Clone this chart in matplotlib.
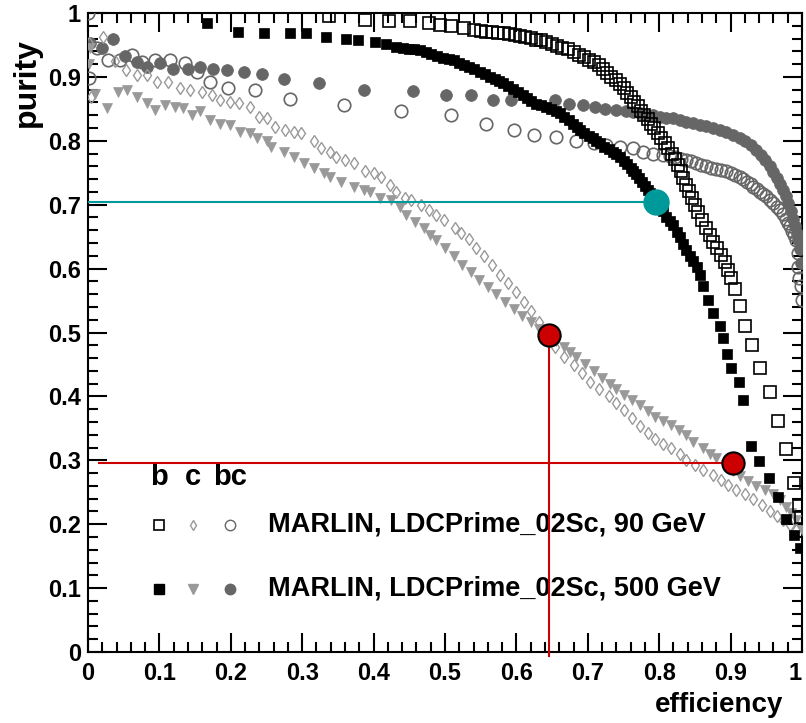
import matplotlib
matplotlib.use("Agg")
import matplotlib.pyplot as plt
from matplotlib.ticker import MultipleLocator

# ---------------- data ----------------
b90_x = [0.338,0.388,0.421,0.451,0.477,0.493,0.509,0.526,0.540,0.550,0.558,0.566,0.574,0.582,0.590,0.598,0.605,0.612,0.620,0.628,0.635,0.642,0.650,0.657,0.664,0.672,0.680,0.688,0.695,0.702,0.708,0.715,0.721,0.727,0.733,0.739,0.745,0.750,0.755,0.760,0.765,0.770,0.775,0.779,0.784,0.789,0.793,0.798,0.803,0.808,0.813,0.818,0.822,0.826,0.830,0.834,0.838,0.842,0.846,0.850,0.855,0.860,0.866,0.871,0.876,0.881,0.886,0.892,0.897,0.901,0.906,0.913,0.920,0.930,0.941,0.955,0.966,0.978,0.989,0.996,0.998]
b90_y = [0.995,0.989,0.987,0.987,0.984,0.981,0.979,0.976,0.973,0.972,0.971,0.970,0.969,0.968,0.967,0.965,0.964,0.963,0.961,0.958,0.957,0.955,0.952,0.949,0.946,0.943,0.939,0.935,0.931,0.927,0.923,0.918,0.912,0.906,0.900,0.895,0.889,0.882,0.875,0.868,0.861,0.854,0.847,0.841,0.834,0.827,0.820,0.812,0.805,0.797,0.789,0.780,0.771,0.762,0.752,0.742,0.731,0.721,0.711,0.700,0.688,0.676,0.663,0.652,0.642,0.632,0.622,0.611,0.598,0.585,0.568,0.541,0.510,0.480,0.444,0.407,0.362,0.317,0.265,0.228,0.212]

b500_x = [0.166,0.210,0.246,0.283,0.305,0.334,0.362,0.378,0.402,0.418,0.432,0.441,0.449,0.457,0.465,0.473,0.481,0.489,0.497,0.505,0.512,0.519,0.526,0.533,0.541,0.549,0.556,0.563,0.570,0.576,0.581,0.588,0.595,0.602,0.609,0.615,0.621,0.628,0.635,0.642,0.649,0.655,0.661,0.667,0.673,0.679,0.685,0.689,0.695,0.701,0.707,0.712,0.717,0.723,0.729,0.735,0.740,0.745,0.750,0.755,0.760,0.764,0.768,0.772,0.776,0.780,0.784,0.787,0.791,0.796,0.800,0.805,0.810,0.815,0.820,0.825,0.829,0.834,0.838,0.843,0.848,0.853,0.857,0.862,0.869,0.876,0.885,0.889,0.895,0.901,0.912,0.918,0.929,0.940,0.954,0.966,0.977,0.989,0.997]
b500_y = [0.984,0.971,0.968,0.968,0.968,0.963,0.959,0.958,0.955,0.951,0.947,0.945,0.944,0.943,0.942,0.939,0.936,0.933,0.930,0.928,0.926,0.922,0.919,0.916,0.912,0.908,0.904,0.900,0.896,0.893,0.890,0.885,0.881,0.877,0.872,0.867,0.862,0.858,0.856,0.853,0.849,0.846,0.843,0.838,0.832,0.826,0.821,0.817,0.812,0.808,0.804,0.800,0.796,0.791,0.787,0.783,0.779,0.775,0.769,0.763,0.757,0.752,0.748,0.742,0.736,0.729,0.723,0.718,0.712,0.704,0.698,0.690,0.681,0.675,0.668,0.658,0.650,0.638,0.629,0.620,0.612,0.603,0.590,0.572,0.551,0.530,0.510,0.491,0.467,0.444,0.423,0.394,0.323,0.299,0.272,0.243,0.208,0.183,0.162]

bc90_x = [0.000,0.002,0.012,0.028,0.045,0.061,0.075,0.094,0.115,0.136,0.152,0.171,0.196,0.234,0.283,0.358,0.438,0.509,0.558,0.597,0.624,0.656,0.684,0.708,0.726,0.745,0.764,0.778,0.792,0.806,0.815,0.822,0.830,0.838,0.845,0.852,0.859,0.866,0.873,0.880,0.887,0.894,0.900,0.906,0.913,0.918,0.923,0.928,0.932,0.937,0.941,0.946,0.950,0.955,0.960,0.965,0.969,0.973,0.977,0.980,0.983,0.986,0.989,0.992,0.994,0.995,0.996,0.998,1.000]
bc90_y = [1.000,0.899,0.945,0.926,0.926,0.934,0.924,0.926,0.926,0.921,0.908,0.892,0.882,0.879,0.866,0.856,0.846,0.840,0.827,0.817,0.809,0.806,0.799,0.796,0.793,0.791,0.788,0.783,0.780,0.778,0.776,0.774,0.772,0.770,0.768,0.765,0.762,0.760,0.758,0.756,0.754,0.752,0.750,0.747,0.744,0.740,0.736,0.732,0.728,0.724,0.720,0.717,0.713,0.708,0.703,0.697,0.692,0.685,0.678,0.672,0.666,0.659,0.652,0.645,0.625,0.603,0.585,0.572,0.551]

bc500_x = [0.003,0.019,0.035,0.052,0.068,0.082,0.101,0.119,0.140,0.157,0.175,0.194,0.218,0.243,0.274,0.323,0.386,0.455,0.502,0.537,0.567,0.593,0.654,0.673,0.693,0.710,0.724,0.740,0.754,0.764,0.773,0.782,0.791,0.801,0.810,0.819,0.829,0.838,0.848,0.857,0.866,0.876,0.885,0.894,0.903,0.913,0.920,0.928,0.936,0.942,0.948,0.955,0.960,0.965,0.969,0.973,0.977,0.981,0.984,0.987,0.990,0.993,0.995,0.997,0.999]
bc500_y = [0.953,0.945,0.960,0.932,0.924,0.916,0.921,0.913,0.913,0.916,0.913,0.911,0.908,0.905,0.897,0.891,0.879,0.878,0.872,0.872,0.864,0.864,0.864,0.858,0.856,0.853,0.849,0.848,0.846,0.845,0.843,0.841,0.840,0.838,0.836,0.835,0.833,0.830,0.828,0.825,0.823,0.820,0.817,0.813,0.809,0.804,0.799,0.793,0.786,0.778,0.770,0.760,0.751,0.742,0.733,0.723,0.713,0.702,0.690,0.678,0.666,0.655,0.645,0.630,0.608]

c90_x = [0.002,0.004,0.021,0.038,0.053,0.068,0.082,0.096,0.112,0.129,0.143,0.159,0.173,0.185,0.199,0.211,0.227,0.239,0.250,0.262,0.276,0.288,0.299,0.316,0.327,0.339,0.348,0.360,0.372,0.388,0.400,0.411,0.423,0.432,0.444,0.453,0.467,0.478,0.488,0.498,0.514,0.523,0.533,0.544,0.555,0.566,0.577,0.588,0.599,0.610,0.621,0.632,0.643,0.654,0.666,0.680,0.692,0.703,0.716,0.729,0.740,0.750,0.762,0.773,0.784,0.794,0.806,0.817,0.829,0.838,0.850,0.862,0.875,0.887,0.897,0.908,0.920,0.932,0.944,0.955,0.965,0.974,0.983,0.992]
c90_y = [0.953,0.869,0.962,0.925,0.911,0.903,0.903,0.892,0.892,0.882,0.879,0.877,0.872,0.864,0.861,0.859,0.853,0.838,0.835,0.822,0.817,0.814,0.812,0.799,0.788,0.783,0.775,0.770,0.765,0.752,0.749,0.744,0.731,0.720,0.710,0.707,0.700,0.692,0.684,0.676,0.663,0.655,0.647,0.633,0.620,0.605,0.590,0.577,0.563,0.548,0.533,0.516,0.499,0.478,0.462,0.449,0.436,0.423,0.411,0.400,0.389,0.379,0.366,0.353,0.343,0.334,0.326,0.319,0.310,0.300,0.293,0.285,0.277,0.269,0.262,0.254,0.248,0.240,0.230,0.220,0.213,0.207,0.199,0.191]

c500_x = [0.003,0.002,0.010,0.026,0.042,0.054,0.068,0.082,0.094,0.108,0.122,0.133,0.145,0.157,0.171,0.185,0.199,0.213,0.227,0.236,0.250,0.257,0.274,0.288,0.302,0.316,0.330,0.339,0.355,0.372,0.386,0.395,0.409,0.425,0.437,0.446,0.458,0.470,0.479,0.488,0.500,0.512,0.524,0.536,0.548,0.560,0.572,0.584,0.596,0.608,0.620,0.632,0.645,0.656,0.666,0.675,0.684,0.696,0.708,0.720,0.731,0.740,0.750,0.762,0.773,0.784,0.794,0.806,0.817,0.828,0.838,0.848,0.862,0.871,0.880,0.894,0.904,0.913,0.924,0.936,0.948,0.960,0.969,0.978,0.985,0.992,1.000]
c500_y = [0.945,0.920,0.874,0.851,0.877,0.879,0.869,0.859,0.848,0.856,0.853,0.851,0.840,0.846,0.833,0.827,0.825,0.814,0.812,0.804,0.799,0.791,0.783,0.775,0.765,0.757,0.749,0.744,0.736,0.728,0.723,0.720,0.710,0.707,0.696,0.684,0.673,0.663,0.653,0.645,0.632,0.619,0.606,0.594,0.582,0.571,0.560,0.548,0.537,0.526,0.516,0.506,0.496,0.487,0.478,0.470,0.462,0.450,0.439,0.429,0.420,0.411,0.402,0.395,0.387,0.377,0.368,0.362,0.355,0.347,0.340,0.328,0.319,0.310,0.304,0.292,0.283,0.275,0.268,0.259,0.253,0.248,0.238,0.227,0.217,0.207,0.191]

# working points
cyan_pt = (0.796, 0.704)
red_pt1 = (0.645, 0.496)
red_pt2 = (0.903, 0.295)

legend_labels = ["MARLIN, LDCPrime_02Sc, 90 GeV", "MARLIN, LDCPrime_02Sc, 500 GeV"]
legend_cols = ["b", "c", "bc"]
tick_labels = ["0", "0.1", "0.2", "0.3", "0.4", "0.5", "0.6", "0.7", "0.8", "0.9", "1"]

# ---------------- style ----------------
FONT = ["Liberation Sans", "DejaVu Sans"]
plt.rcParams["font.family"] = FONT
plt.rcParams["font.weight"] = "bold"

fig = plt.figure(figsize=(8.06, 7.23), dpi=100)
ax = fig.add_axes([88/806, 1-652/723, (802-88)/806, (652-13)/723])
ax.set_xlim(0, 1)
ax.set_ylim(0, 1)

BLACK = "#000000"
GREY_L = "#999999"
GREY_D = "#666666"

# data series
ax.plot(bc500_x, bc500_y, ls="none", marker="o", ms=8.5, mfc=GREY_D, mec=GREY_D, mew=0.5, zorder=3)
ax.plot(bc90_x, bc90_y, ls="none", marker="o", ms=9, mfc="none", mec=GREY_D, mew=1.2, zorder=3)
ax.plot(c500_x, c500_y, ls="none", marker="v", ms=7.5, mfc=GREY_L, mec=GREY_L, mew=0.5, zorder=3)
ax.plot(c90_x, c90_y, ls="none", marker="d", ms=6.3, mfc="none", mec=GREY_L, mew=1.0, zorder=3)
ax.plot(b500_x, b500_y, ls="none", marker="s", ms=7.5, mfc=BLACK, mec=BLACK, mew=0.5, zorder=4)
ax.plot(b90_x, b90_y, ls="none", marker="s", ms=8, mfc="none", mec=BLACK, mew=1.2, zorder=4)

# working-point lines and markers
ax.plot([0, cyan_pt[0]], [cyan_pt[1], cyan_pt[1]], color="#009999", lw=1.5, zorder=5)
ax.plot([0.015, red_pt2[0]], [red_pt2[1], red_pt2[1]], color="#cc0000", lw=1.5, zorder=5)
ax.plot([red_pt1[0], red_pt1[0]], [-0.006, red_pt1[1]], color="#cc0000", lw=1.5, zorder=5, clip_on=False)
ax.plot([cyan_pt[0]], [cyan_pt[1]], ls="none", marker="o", ms=18, mfc="#009999", mec="#009999", zorder=6)
ax.plot([red_pt1[0], red_pt2[0]], [red_pt1[1], red_pt2[1]], ls="none", marker="o", ms=16, mfc="#cc0000", mec="black", mew=1.5, zorder=6)

# legend (drawn manually, ROOT style)
col_x = [0.099, 0.147, 0.199]
for cx, lab in zip(col_x, legend_cols):
    ax.text(cx, 0.274, lab, ha="center", va="center", fontsize=21, fontweight="bold", zorder=4)
ax.plot([col_x[0]], [0.199], ls="none", marker="s", ms=7, mfc="none", mec=BLACK, mew=1.2)
ax.plot([col_x[1]], [0.199], ls="none", marker="d", ms=5.5, mfc="none", mec=GREY_L, mew=1.0)
ax.plot([col_x[2]], [0.199], ls="none", marker="o", ms=7.5, mfc="none", mec=GREY_D, mew=1.0)
ax.plot([col_x[0]], [0.099], ls="none", marker="s", ms=7, mfc=BLACK, mec=BLACK)
ax.plot([col_x[1]], [0.099], ls="none", marker="v", ms=7, mfc=GREY_L, mec=GREY_L)
ax.plot([col_x[2]], [0.099], ls="none", marker="o", ms=7.5, mfc=GREY_D, mec=GREY_D)
ax.text(0.252, 0.199, legend_labels[0], ha="left", va="center", fontsize=19.5, fontweight="bold", zorder=4)
ax.text(0.252, 0.099, legend_labels[1], ha="left", va="center", fontsize=19.5, fontweight="bold", zorder=4)

# axes styling
for sp in ax.spines.values():
    sp.set_linewidth(1.5)
ax.xaxis.set_major_locator(MultipleLocator(0.1))
ax.xaxis.set_minor_locator(MultipleLocator(0.02))
ax.yaxis.set_major_locator(MultipleLocator(0.1))
ax.yaxis.set_minor_locator(MultipleLocator(0.02))
ax.tick_params(which="both", direction="in", top=True, right=True, width=1.5)
ax.tick_params(which="major", length=14)
ax.tick_params(which="minor", length=7)
ax.tick_params(axis="x", which="major", pad=7, labelsize=17)
ax.tick_params(axis="y", which="major", pad=5, labelsize=17)
ax.set_xticks([i / 10 for i in range(11)])
ax.set_xticklabels(tick_labels, fontweight="bold")
ax.set_yticks([i / 10 for i in range(11)])
ax.set_yticklabels(tick_labels, fontweight="bold")
# last x label sits flush with the right edge, as in the original
ax.get_xticklabels()[-1].set_horizontalalignment("right")
ax.get_xticklabels()[-1].set_x(1.0)

fig.text(783/806, 1-705/723, "efficiency", ha="right", va="center", fontsize=20, fontweight="bold")
fig.text(27/806, 1-38/723, "purity", ha="center", va="top", rotation=90, fontsize=23, fontweight="bold")

fig.savefig("out.png", dpi=100)
